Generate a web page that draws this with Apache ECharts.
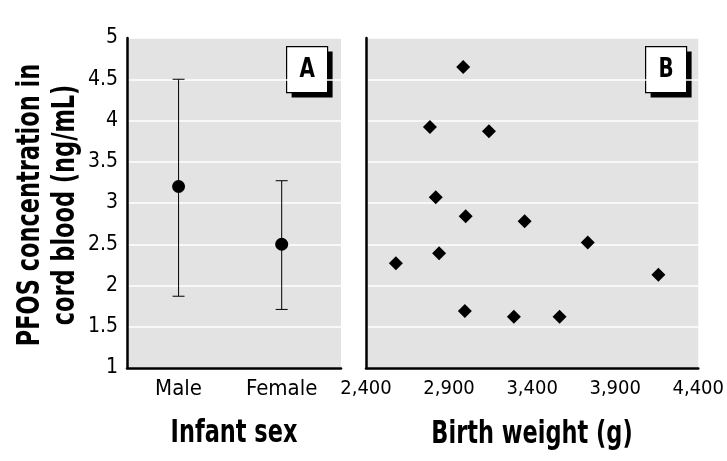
<!DOCTYPE html>
<html><head><meta charset="utf-8">
<script src="https://cdn.jsdelivr.net/npm/echarts@6/dist/echarts.min.js"></script>
<style>html,body{margin:0;padding:0;background:#fff}#c{width:727px;height:461px}</style>
</head><body><div id="c"></div>
<script>
// Panel A: PFOS by infant sex (mean with range)
const sexCategories = ['Male', 'Female'];
const sexMean = [3.2, 2.5];
const sexLower = [1.87, 1.71];
const sexUpper = [4.5, 3.27];
// Panel B: birth weight (g) vs PFOS (ng/mL)
const birthWeight = [2985, 2785, 3140, 2820, 3000, 3355, 3735, 2840, 2580, 4160, 2995, 3290, 3565];
const pfosConc = [4.65, 3.92, 3.87, 3.07, 2.84, 2.78, 2.52, 2.39, 2.27, 2.13, 1.69, 1.62, 1.62];
const yTicks = [1, 1.5, 2, 2.5, 3, 3.5, 4, 4.5, 5];
const xTicksB = [2400, 2900, 3400, 3900, 4400];
const yTitle = 'PFOS concentration in\ncord blood (ng/mL)';
const xTitleA = 'Infant sex';
const xTitleB = 'Birth weight (g)';

const FONT = "'DejaVu Sans Condensed', 'DejaVu Sans', sans-serif";
const catPos = sexCategories.map((c, i) => i * 2 + 1);

const chart = echarts.init(document.getElementById('c'), null, {renderer: 'canvas'});
const axisLineStyle = {show: true, lineStyle: {color: '#000', width: 2.5}};
const gridBg = '#e3e3e3';

function labelBox(x, y, letter) {
  return {
    type: 'group', left: x, top: y, children: [
      {type: 'rect', shape: {x: 5, y: 5, width: 41, height: 46}, style: {fill: '#000'}},
      {type: 'rect', shape: {x: 0, y: 0, width: 41, height: 46}, style: {fill: '#fff', stroke: '#000', lineWidth: 1.2}},
      {type: 'text', x: 20.5, y: 24, scaleX: 0.85, style: {text: letter, font: "bold 26px " + FONT, fill: '#000', align: 'center', verticalAlign: 'middle'}}
    ]
  };
}
function titleText(x, y, text, rot) {
  return {type: 'text', x: x, y: y, rotation: rot || 0, scaleX: 0.78, z: 10,
    style: {text: text, font: "bold 32px " + FONT, fill: '#000', align: 'center', verticalAlign: 'middle', lineHeight: 35}};
}

chart.setOption({
  animation: false,
  grid: [
    {left: 127, top: 38, width: 214, height: 330, show: true, backgroundColor: gridBg, borderWidth: 0},
    {left: 366, top: 38, width: 333, height: 330, show: true, backgroundColor: gridBg, borderWidth: 0}
  ],
  xAxis: [
    {gridIndex: 0, type: 'value', min: 0, max: 4.15,
      axisLine: axisLineStyle, axisTick: {show: false}, splitLine: {show: false},
      axisLabel: {customValues: catPos, formatter: v => sexCategories[(v - 1) / 2] || '',
        color: '#000', fontFamily: FONT, fontSize: 22, margin: 10}},
    {gridIndex: 1, type: 'value', min: xTicksB[0], max: xTicksB[xTicksB.length - 1], interval: 500,
      axisLine: axisLineStyle, axisTick: {show: false}, splitLine: {show: false},
      axisLabel: {formatter: v => v.toLocaleString('en-US'), color: '#000', fontFamily: FONT, fontSize: 20, margin: 11}}
  ],
  yAxis: [
    {gridIndex: 0, type: 'value', min: yTicks[0], max: yTicks[yTicks.length - 1], interval: 0.5,
      axisLine: axisLineStyle, axisTick: {show: false},
      splitLine: {show: true, lineStyle: {color: '#fff', width: 1.5}},
      axisLabel: {color: '#000', fontFamily: FONT, fontSize: 21, margin: 9}},
    {gridIndex: 1, type: 'value', min: yTicks[0], max: yTicks[yTicks.length - 1], interval: 0.5,
      axisLine: axisLineStyle, axisTick: {show: false}, axisLabel: {show: false},
      splitLine: {show: true, lineStyle: {color: '#fff', width: 1.5}}}
  ],
  series: [
    {type: 'custom', xAxisIndex: 0, yAxisIndex: 0,
      data: catPos.map((p, i) => [p, sexLower[i], sexUpper[i]]),
      renderItem: function (params, api) {
        const x = api.coord([api.value(0), api.value(1)])[0];
        const yl = api.coord([api.value(0), api.value(1)])[1];
        const yu = api.coord([api.value(0), api.value(2)])[1];
        const hw = 6;
        const st = {stroke: '#000', lineWidth: 1};
        return {type: 'group', children: [
          {type: 'line', shape: {x1: x, y1: yl, x2: x, y2: yu}, style: st},
          {type: 'line', shape: {x1: x - hw, y1: yl, x2: x + hw, y2: yl}, style: st},
          {type: 'line', shape: {x1: x - hw, y1: yu, x2: x + hw, y2: yu}, style: st}
        ]};
      }, z: 2},
    {type: 'scatter', xAxisIndex: 0, yAxisIndex: 0, symbol: 'circle', symbolSize: 13,
      itemStyle: {color: '#000', opacity: 1}, data: catPos.map((p, i) => [p, sexMean[i]]), z: 3},
    {type: 'scatter', xAxisIndex: 1, yAxisIndex: 1, symbol: 'diamond', symbolSize: 14,
      itemStyle: {color: '#000', opacity: 1}, data: birthWeight.map((w, i) => [w, pfosConc[i]]), z: 3}
  ],
  graphic: [
    labelBox(286, 46, 'A'), labelBox(645, 46, 'B'),
    titleText(48, 205, yTitle, Math.PI / 2),
    titleText(234, 434, xTitleA),
    titleText(532, 435, xTitleB)
  ]
});
</script></body></html>
